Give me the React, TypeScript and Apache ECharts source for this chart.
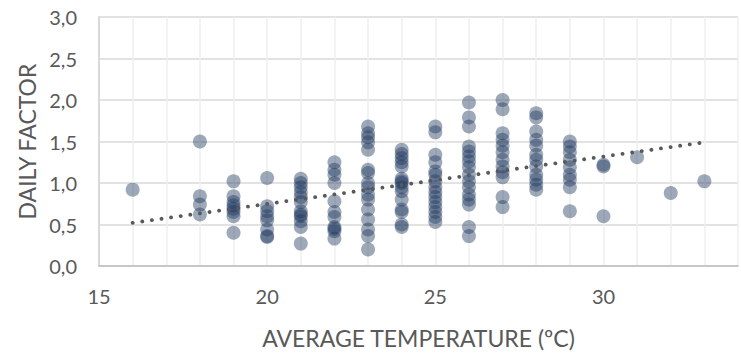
import React, { useEffect, useRef } from "react";
import * as echarts from "echarts";

const temps = [16, 18, 19, 20, 21, 22, 23, 24, 25, 26, 27, 28, 29, 30, 31, 32, 33];
const factors: number[][] = [
  [0.92],
  [1.5, 0.84, 0.74, 0.62],
  [1.02, 0.84, 0.77, 0.73, 0.69, 0.65, 0.6, 0.4],
  [1.06, 0.72, 0.66, 0.6, 0.55, 0.44, 0.36, 0.35],
  [1.05, 1.0, 0.95, 0.89, 0.83, 0.77, 0.66, 0.62, 0.6, 0.54, 0.47, 0.27],
  [1.25, 1.16, 1.1, 1.0, 0.78, 0.65, 0.59, 0.47, 0.45, 0.42, 0.33],
  [1.68, 1.6, 1.55, 1.49, 1.4, 1.16, 1.12, 1.0, 0.95, 0.86, 0.8, 0.68, 0.56, 0.44, 0.36, 0.2],
  [1.4, 1.35, 1.3, 1.25, 1.2, 1.05, 1.02, 1.0, 0.95, 0.9, 0.8, 0.68, 0.65, 0.5, 0.47],
  [1.68, 1.61, 1.34, 1.25, 1.14, 1.1, 1.02, 0.95, 0.89, 0.83, 0.77, 0.71, 0.65, 0.59, 0.53],
  [1.97, 1.79, 1.68, 1.44, 1.38, 1.32, 1.26, 1.19, 1.1, 1.02, 0.95, 0.86, 0.8, 0.74, 0.47, 0.36],
  [2.0, 1.89, 1.6, 1.52, 1.45, 1.37, 1.28, 1.2, 1.13, 1.07, 0.83, 0.71],
  [1.84, 1.79, 1.62, 1.52, 1.45, 1.34, 1.28, 1.2, 1.1, 1.04, 0.98, 0.92],
  [1.5, 1.44, 1.37, 1.28, 1.19, 1.1, 1.04, 0.95, 0.66],
  [1.22, 1.2, 0.6],
  [1.31],
  [0.88],
  [1.02],
];
const trendX = [16, 33];
const trendY = [0.52, 1.49];

const xTickLabels = ["15", "20", "25", "30"];
const xTitle = "AVERAGE TEMPERATURE (ºC)";
const yTitle = "DAILY FACTOR";

export default function App() {
  const ref = useRef<HTMLDivElement>(null);
  useEffect(() => {
    if (!ref.current) return;
    const chart = echarts.init(ref.current, undefined, { renderer: "svg" });
    const points: number[][] = [];
    temps.forEach((t, i) => factors[i].forEach((f) => points.push([t, f])));
    const font = "Lato, 'Open Sans', sans-serif";
    chart.setOption({
      animation: false,
      grid: { left: 99, right: 1, top: 17, bottom: 87, containLabel: false },
      xAxis: {
        type: "value",
        min: 15,
        max: 34,
        interval: 1,
        name: xTitle,
        nameLocation: "middle",
        nameGap: 60,
        nameTextStyle: { color: "#595959", fontSize: 23, fontFamily: font },
        axisLine: { show: true, lineStyle: { color: "#BFBFBF", width: 1.5 } },
        axisTick: { show: false },
        axisLabel: {
          color: "#595959",
          fontSize: 20,
          fontFamily: font,
          margin: 20,
          formatter: (v: number) => (xTickLabels.includes(String(v)) ? String(v) : ""),
        },
        splitLine: { show: true, lineStyle: { color: "#EFEFEF", width: 1.5 } },
      },
      yAxis: {
        type: "value",
        min: 0,
        max: 3,
        interval: 0.5,
        name: yTitle,
        nameLocation: "middle",
        nameGap: 58,
        nameTextStyle: { color: "#595959", fontSize: 23, fontFamily: font },
        axisLine: { show: true, lineStyle: { color: "#D0D0D0", width: 1.5 } },
        axisTick: { show: false },
        axisLabel: {
          color: "#595959",
          fontSize: 20,
          fontFamily: font,
          margin: 22,
          formatter: (v: number) => v.toFixed(1).replace(".", ","),
        },
        splitLine: { show: true, lineStyle: { color: "#D9D9D9", width: 1.5 } },
      },
      series: [
        {
          type: "scatter",
          data: points,
          symbolSize: 14,
          itemStyle: { color: "rgba(31,58,96,0.55)" },
          z: 2,
        },
        {
          type: "line",
          data: trendX.map((x, i) => [x, trendY[i]]),
          symbol: "none",
          lineStyle: { color: "#595959", width: 3.8, type: [0.1, 9.6], cap: "round" },
          z: 3,
        },
      ],
    });
    return () => chart.dispose();
  }, []);
  return <div ref={ref} style={{ width: 741, height: 354, position: "absolute", left: 0, top: 0 }} />;
}
